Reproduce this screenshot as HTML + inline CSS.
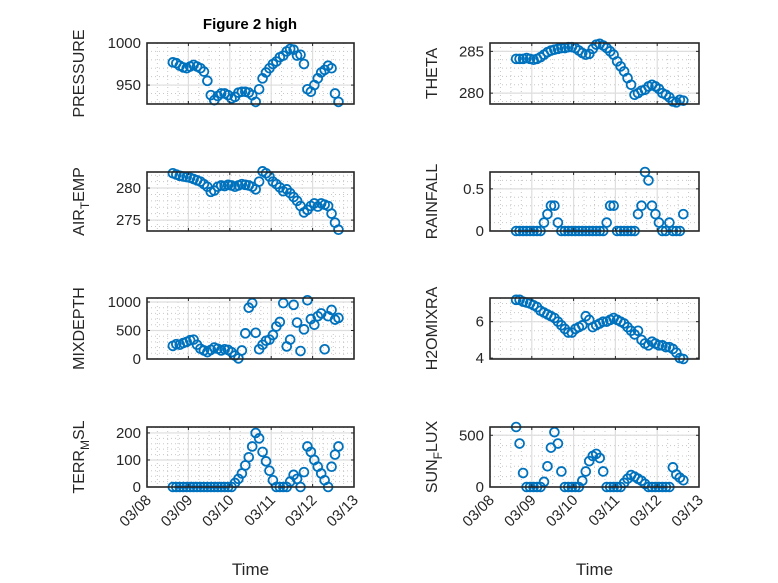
<!DOCTYPE html>
<html><head><meta charset="utf-8"><style>
html,body{margin:0;padding:0;background:#fff;}
svg{display:block;font-family:"Liberation Sans","DejaVu Sans",sans-serif;}
</style></head><body>
<svg id="fig" width="778" height="583" viewBox="0 0 778 583" xmlns="http://www.w3.org/2000/svg">
<rect width="778" height="583" fill="#fff"/>
<text x="250" y="29" text-anchor="middle" font-size="15" font-weight="bold" fill="#000">Figure 2 high</text>
</svg>
<script>
const timeDays = [];
for (let i = 0; i < 49; i++) timeDays.push(0.625 + i / 12);
const xTickLabels = ["03/08","03/09","03/10","03/11","03/12","03/13"];
const pressure = [977,976,973,971,970,972,974,972,970,966,955,938,932,937,940,940,938,934,936,941,942,942,941,938,930,945,958,965,970,975,978,983,985,990,993,992,985,986,975,945,942,950,958,965,968,973,970,940,930];
const theta = [284.1,284.1,284.1,284.2,284.1,284.0,284.1,284.3,284.6,284.9,285.1,285.2,285.3,285.4,285.4,285.5,285.5,285.4,285.1,284.8,284.6,284.7,285.3,285.8,285.9,285.7,285.4,285.0,284.6,283.8,283.2,282.6,281.8,281.0,279.8,280.0,280.3,280.4,280.8,281.0,280.8,280.5,280.0,279.8,279.5,279.0,278.9,279.2,279.1];
const airTemp = [282.3,282.1,281.9,281.8,281.7,281.6,281.4,281.2,281.0,280.6,280.2,279.4,279.6,280.2,280.4,280.3,280.5,280.4,280.2,280.4,280.6,280.5,280.4,280.2,279.8,281.0,282.6,282.3,281.8,281.0,280.6,280.1,279.5,279.8,279.2,278.6,278.0,277.2,276.2,276.6,277.2,277.6,277.1,277.6,277.4,277.2,276.0,274.6,273.5];
const rainfall = [0,0,0,0,0,0,0,0,0.1,0.2,0.3,0.3,0.1,0,0,0,0,0,0,0,0,0,0,0,0,0,0.1,0.3,0.3,0,0,0,0,0,0,0.2,0.3,0.7,0.6,0.3,0.2,0.1,0,0,0.1,0,0,0,0.2];
const mixDepth = [230,260,250,280,300,330,340,250,180,150,120,160,200,180,150,170,160,120,60,10,150,450,900,980,460,170,250,320,340,420,570,650,980,220,340,950,640,140,520,1030,700,600,750,800,170,750,860,690,720];
const h2oMix = [7.2,7.2,7.1,7.05,7.0,6.9,6.8,6.6,6.5,6.4,6.3,6.2,6.0,5.8,5.6,5.4,5.4,5.6,5.7,5.8,6.3,6.1,5.7,5.8,5.9,6.0,6.0,6.1,6.2,6.1,6.0,5.9,5.7,5.5,5.3,5.5,5.0,4.8,4.7,4.9,4.8,4.7,4.7,4.6,4.6,4.5,4.3,4.0,3.95];
const terrMsl = [0,0,0,0,0,0,0,0,0,0,0,0,0,0,0,0,0,0,15,30,50,80,110,150,200,180,130,95,60,25,0,0,0,0,20,45,30,0,55,150,130,100,75,50,25,0,75,120,150];
const sunFlux = [580,420,135,0,0,0,0,0,50,200,380,530,420,150,0,0,0,0,0,60,150,250,300,320,280,150,0,0,0,0,0,40,80,115,100,80,60,30,0,0,0,0,0,0,0,190,120,90,65];

const NS = "http://www.w3.org/2000/svg";
const svg = document.getElementById("fig");
function mk(tag, attrs, parent) {
  const e = document.createElementNS(NS, tag);
  for (const k in attrs) e.setAttribute(k, attrs[k]);
  (parent || svg).appendChild(e);
  return e;
}
const cols = [{x0:147, x1:354}, {x0:490, x1:699}];
const rows = [{y0:43,y1:104},{y0:172,y1:231},{y0:298,y1:359},{y0:427,y1:487}];
const panels = [
  {name:"pressure", c:0, r:0, data:pressure, ymin:927.5, ymax:1000, ticks:[950,1000], minor:10, label:["PRESSURE"]},
  {name:"theta", c:1, r:0, data:theta, ymin:278.7, ymax:286, ticks:[280,285], minor:1, label:["THETA"]},
  {name:"air-temp", c:0, r:1, data:airTemp, ymin:273.3, ymax:282.5, ticks:[275,280], minor:1, label:["AIR","T","EMP"]},
  {name:"rainfall", c:1, r:1, data:rainfall, ymin:0, ymax:0.7, ticks:[0,0.5], minor:0.1, label:["RAINFALL"]},
  {name:"mixdepth", c:0, r:2, data:mixDepth, ymin:0, ymax:1070, ticks:[0,500,1000], minor:100, label:["MIXDEPTH"]},
  {name:"h2omixra", c:1, r:2, data:h2oMix, ymin:3.95, ymax:7.3, ticks:[4,6], minor:0.5, label:["H2OMIXRA"]},
  {name:"terr-msl", c:0, r:3, data:terrMsl, ymin:0, ymax:222, ticks:[0,100,200], minor:20, label:["TERR","M","SL"]},
  {name:"sun-flux", c:1, r:3, data:sunFlux, ymin:0, ymax:580, ticks:[0,500], minor:100, label:["SUN","F","LUX"]}
];
panels.forEach(p => {
  const C = cols[p.c], R = rows[p.r];
  const xs = d => C.x0 + d / 5 * (C.x1 - C.x0);
  const ys = v => R.y1 - (v - p.ymin) / (p.ymax - p.ymin) * (R.y1 - R.y0);
  const g = mk("g", {});
  
  
  mk("rect", {x:C.x0, y:R.y0, width:C.x1-C.x0, height:R.y1-R.y0, fill:"#fff"}, g);
  for (let d = 0.25; d < 5; d += 0.25) {
    if (Math.abs(d - Math.round(d)) < 1e-6) continue;
    mk("line", {x1:xs(d), x2:xs(d), y1:R.y0, y2:R.y1, stroke:"#c8c8c8", "stroke-width":1, "stroke-dasharray":"1,3"}, g);
  }
  const mstart = Math.ceil(p.ymin / p.minor) * p.minor;
  for (let v = mstart; v < p.ymax; v += p.minor) {
    mk("line", {x1:C.x0, x2:C.x1, y1:ys(v), y2:ys(v), stroke:"#c8c8c8", "stroke-width":1, "stroke-dasharray":"1,3"}, g);
  }
  for (let d = 1; d < 5; d++) mk("line", {x1:xs(d), x2:xs(d), y1:R.y0, y2:R.y1, stroke:"#dedede", "stroke-width":1.2}, g);
  p.ticks.forEach(v => mk("line", {x1:C.x0, x2:C.x1, y1:ys(v), y2:ys(v), stroke:"#dedede", "stroke-width":1.2}, g));
  p.data.forEach((v, i) => {
    const c = mk("circle", {cx:xs(timeDays[i]), cy:ys(v), r:4.4, fill:"none", stroke:"#0072bd", "stroke-width":1.8}, g);
    
    
  });
  mk("rect", {x:C.x0, y:R.y0, width:C.x1-C.x0, height:R.y1-R.y0, fill:"none", stroke:"#262626", "stroke-width":1.6}, g);
  for (let d = 0; d <= 5; d++) {
    mk("line", {x1:xs(d), x2:xs(d), y1:R.y1, y2:R.y1-3, stroke:"#262626"}, g);
    mk("line", {x1:xs(d), x2:xs(d), y1:R.y0, y2:R.y0+3, stroke:"#262626"}, g);
  }
  p.ticks.forEach(v => {
    mk("line", {x1:C.x0, x2:C.x0+3, y1:ys(v), y2:ys(v), stroke:"#262626"}, g);
    mk("line", {x1:C.x1, x2:C.x1-3, y1:ys(v), y2:ys(v), stroke:"#262626"}, g);
    const t = mk("text", {x:C.x0-6, y:ys(v)+5, "text-anchor":"end", "font-size":15, fill:"#262626"}, g);
    
    
    t.textContent = String(v);
  });
  const lx = p.c === 0 ? 84 : 437;
  const ly = (R.y0 + R.y1) / 2;
  const yl = mk("text", {x:lx, y:ly, "text-anchor":"middle", "font-size":16, fill:"#262626", transform:`rotate(-90 ${lx} ${ly})`}, g);
  
  
  if (p.label.length === 1) yl.textContent = p.label[0];
  else {
    const a = mk("tspan", {}, yl); a.textContent = p.label[0];
    const b = mk("tspan", {dy:5, "font-size":12}, yl); b.textContent = p.label[1];
    const c2 = mk("tspan", {dy:-5}, yl); c2.textContent = p.label[2];
  }
  if (p.r === 3) {
    for (let d = 0; d <= 5; d++) {
      const tx = xs(d) + 5, ty = R.y1 + 14;
      const t = mk("text", {x:tx, y:ty, "text-anchor":"end", "font-size":15, fill:"#262626", transform:`rotate(-45 ${tx} ${ty})`}, g);
      
      
      t.textContent = xTickLabels[d];
    }
    const xt = mk("text", {x:(C.x0+C.x1)/2, y:575, "text-anchor":"middle", "font-size":17, fill:"#262626"}, g);
    
    
    xt.textContent = "Time";
  }
});
</script>
</body></html>
